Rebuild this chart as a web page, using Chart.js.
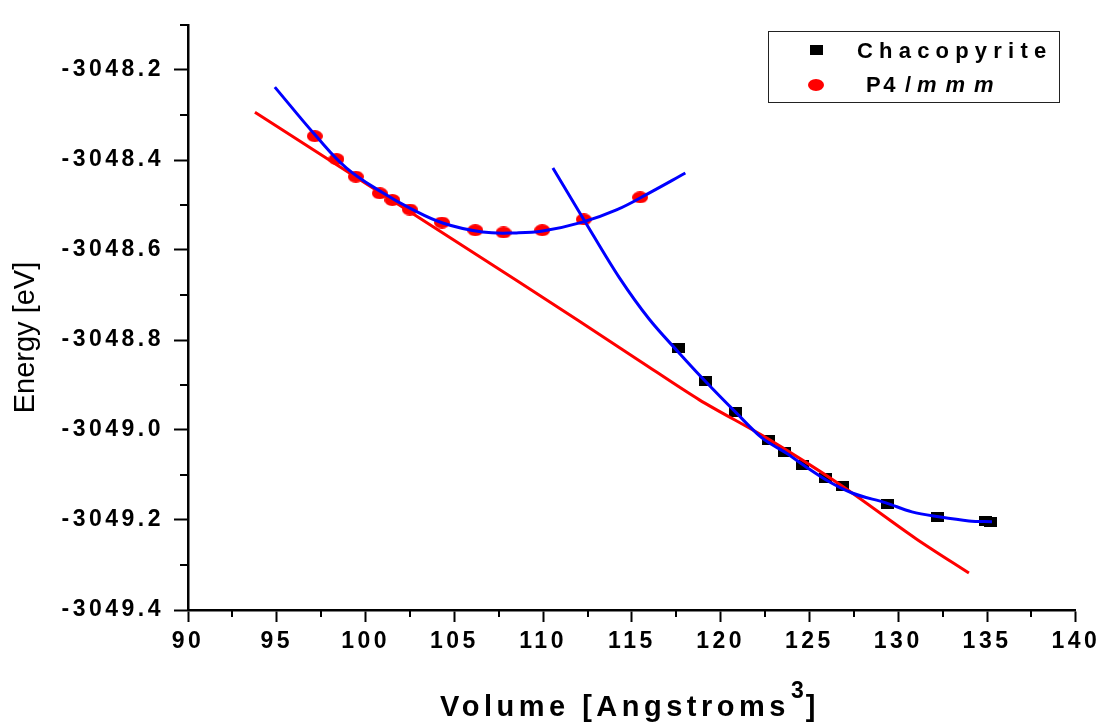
<!DOCTYPE html>
<html>
<head>
<meta charset="utf-8">
<title>Energy vs Volume</title>
<script src="https://cdn.jsdelivr.net/npm/chart.js@4.4.1/dist/chart.umd.min.js"></script>
<style>
  html, body { margin: 0; padding: 0; background: #fff; }
</style>
</head>
<body>
<canvas id="grafico" width="1101" height="725"></canvas>
<script>
// Chacopyrite: calculated points
const volChaco = [117.63, 119.13, 120.82, 122.69, 123.58, 124.63, 125.88, 126.86, 129.39, 132.20, 134.90, 135.20];
const energiaChaco = [-3048.818, -3048.891, -3048.959, -3049.022, -3049.049, -3049.078, -3049.107, -3049.124, -3049.165, -3049.193, -3049.203, -3049.204];

// P4/mmm: calculated points
const volP4 = [97.14, 98.36, 99.45, 100.80, 101.51, 102.49, 104.30, 106.18, 107.77, 109.95, 112.29, 115.46];
const energiaP4 = [-3048.347, -3048.398, -3048.437, -3048.474, -3048.489, -3048.510, -3048.539, -3048.556, -3048.561, -3048.556, -3048.532, -3048.483];

// fitted curves (blue)
const volAjusteP4 = [94.89, 97.24, 98.93, 100.97, 102.49, 104.34, 106.59, 108.50, 109.97, 112.22, 114.13, 115.99, 118.01];
const energiaAjusteP4 = [-3048.238, -3048.348, -3048.418, -3048.473, -3048.507, -3048.540, -3048.560, -3048.562, -3048.558, -3048.538, -3048.511, -3048.473, -3048.429];

const volAjusteChaco = [110.55, 112.27, 114.30, 115.98, 117.62, 119.19, 120.88, 122.34, 123.69, 124.81, 125.94, 127.40, 129.31, 130.77, 132.29, 133.98, 135.28];
const energiaAjusteChaco = [-3048.418, -3048.531, -3048.662, -3048.754, -3048.827, -3048.894, -3048.962, -3049.018, -3049.051, -3049.082, -3049.111, -3049.140, -3049.162, -3049.182, -3049.193, -3049.202, -3049.204];

// common tangent (red)
const volTangente = [93.77, 108.49, 115.42, 118.80, 122.55, 126.67, 130.98, 133.98];
const energiaTangente = [-3048.294, -3048.667, -3048.846, -3048.933, -3049.017, -3049.120, -3049.241, -3049.318];

// axis ticks
const ticksX = [90, 95, 100, 105, 110, 115, 120, 125, 130, 135, 140];
const menoresX = [92.5, 97.5, 102.5, 107.5, 112.5, 117.5, 122.5, 127.5, 132.5, 137.5];
const ticksY = [-3049.4, -3049.2, -3049.0, -3048.8, -3048.6, -3048.4, -3048.2];
const menoresY = [-3049.3, -3049.1, -3048.9, -3048.7, -3048.5, -3048.3, -3048.1];

const FUENTE = "'Liberation Sans', Arial, sans-serif";

const pares = (xs, ys) => xs.map((x, i) => ({ x: x, y: ys[i] }));

// small canvases used as point markers
function marcador(ancho, alto, color, forma) {
    const c = document.createElement("canvas");
    c.width = ancho;
    c.height = alto;
    const g = c.getContext("2d");
    g.fillStyle = color;
    if (forma === "rect") {
        g.fillRect(0, 0, ancho, alto);
    } else {
        g.beginPath();
        g.ellipse(ancho / 2, alto / 2, ancho / 2, alto / 2, 0, 0, Math.PI * 2);
        g.fill();
    }
    return c;
}

const cuadrado = marcador(13, 10, "#000", "rect");
const circulo = marcador(16, 12, "#ff0000", "ellipse");

const extras = {
    id: "extras",
    beforeDraw(chart) {
        chart.ctx.letterSpacing = "3.5px";
    },
    afterDraw(chart) {
        const ctx = chart.ctx;
        const sx = chart.scales.x;
        const sy = chart.scales.y;

        ctx.save();
        ctx.letterSpacing = "0px";

        // minor ticks
        ctx.strokeStyle = "#000";
        ctx.lineWidth = 2;
        ctx.beginPath();
        menoresX.forEach(v => {
            const px = Math.round(sx.getPixelForValue(v));
            ctx.moveTo(px, sx.top);
            ctx.lineTo(px, sx.top + 7);
        });
        menoresY.forEach(v => {
            const py = Math.round(sy.getPixelForValue(v));
            ctx.moveTo(sy.right, py);
            ctx.lineTo(sy.right - 8, py);
        });
        ctx.stroke();

        ctx.fillStyle = "#000";

        // y title
        ctx.save();
        ctx.translate(34, 337.5);
        ctx.rotate(-Math.PI / 2);
        ctx.font = "29px " + FUENTE;
        ctx.textAlign = "center";
        ctx.textBaseline = "alphabetic";
        ctx.fillText("Energy [eV]", 0, 0);
        ctx.restore();

        // x title with superscript
        ctx.textAlign = "left";
        ctx.textBaseline = "alphabetic";
        ctx.font = "bold 29px " + FUENTE;
        ctx.letterSpacing = "4.5px";
        const base = "Volume [Angstroms";
        let xt = 440;
        ctx.fillText(base, xt, 716);
        xt += ctx.measureText(base).width + 1;
        ctx.font = "bold 23px " + FUENTE;
        ctx.letterSpacing = "0px";
        ctx.fillText("3", xt, 698);
        xt += ctx.measureText("3").width + 2;
        ctx.font = "bold 29px " + FUENTE;
        ctx.fillText("]", xt, 716);

        // legend
        ctx.strokeStyle = "#222";
        ctx.lineWidth = 1;
        ctx.strokeRect(768.5, 31.5, 291, 71);
        ctx.drawImage(cuadrado, 810, 45);
        ctx.drawImage(circulo, 808, 79);
        ctx.font = "bold 22px " + FUENTE;
        ctx.letterSpacing = "6.2px";
        ctx.fillText("Chacopyrite", 857, 58);
        ctx.letterSpacing = "2.5px";
        ctx.fillText("P4", 866, 92);
        ctx.letterSpacing = "0px";
        ctx.fillText("/", 905, 92);
        ctx.font = "italic bold 22px " + FUENTE;
        ctx.letterSpacing = "9px";
        ctx.fillText("mmm", 917, 92);

        ctx.restore();
    }
};

const ctx = document.getElementById("grafico").getContext("2d");

new Chart(ctx, {
    type: "scatter",
    data: {
        datasets: [
            {
                label: "Chacopyrite fit",
                data: pares(volAjusteChaco, energiaAjusteChaco),
                showLine: true,
                borderColor: "#0000ff",
                borderWidth: 3,
                pointRadius: 0,
                cubicInterpolationMode: "monotone",
                order: 0
            },
            {
                label: "P4/mmm fit",
                data: pares(volAjusteP4, energiaAjusteP4),
                showLine: true,
                borderColor: "#0000ff",
                borderWidth: 3,
                pointRadius: 0,
                tension: 0.4,
                order: 0
            },
            {
                label: "tangent",
                data: pares(volTangente, energiaTangente),
                showLine: true,
                borderColor: "#ff0000",
                borderWidth: 3,
                pointRadius: 0,
                tension: 0.3,
                order: 1
            },
            {
                label: "Chacopyrite",
                data: pares(volChaco, energiaChaco),
                pointStyle: cuadrado,
                pointRadius: 6,
                order: 2
            },
            {
                label: "P4/mmm",
                data: pares(volP4, energiaP4),
                pointStyle: circulo,
                pointRadius: 6,
                order: 2
            }
        ]
    },
    options: {
        responsive: false,
        animation: false,
        layout: { padding: { left: 0, right: 24, top: 25, bottom: 0 } },
        plugins: {
            legend: { display: false },
            tooltip: { enabled: false }
        },
        scales: {
            x: {
                type: "linear",
                min: 90,
                max: 140,
                afterFit: s => { s.height = 115; },
                afterBuildTicks: s => { s.ticks = ticksX.map(v => ({ value: v })); },
                grid: { drawOnChartArea: false, color: "#000", tickLength: 12, tickWidth: 2 },
                border: { color: "#000", width: 2.5 },
                ticks: {
                    color: "#000",
                    font: { family: FUENTE, size: 23, weight: "bold" },
                    padding: 6,
                    maxRotation: 0,
                    autoSkip: false,
                    callback: v => String(v)
                }
            },
            y: {
                type: "linear",
                min: -3049.4,
                max: -3048.1,
                afterFit: s => { s.width = 188; },
                afterBuildTicks: s => { s.ticks = ticksY.map(v => ({ value: v })); },
                grid: { drawOnChartArea: false, color: "#000", tickLength: 14, tickWidth: 2 },
                border: { color: "#000", width: 2.5 },
                ticks: {
                    color: "#000",
                    font: { family: FUENTE, size: 23, weight: "bold" },
                    padding: 10,
                    autoSkip: false,
                    callback: v => v.toFixed(1)
                }
            }
        }
    },
    plugins: [extras]
});
</script>
</body>
</html>
